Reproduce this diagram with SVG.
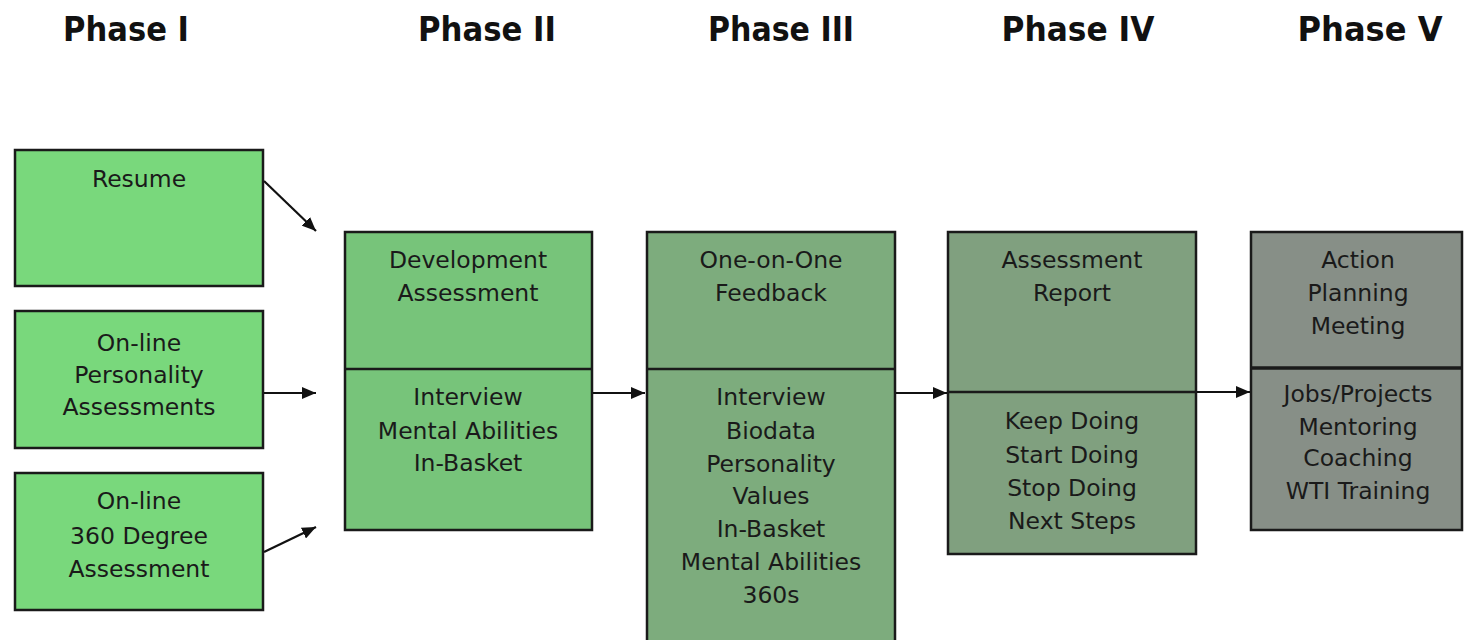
<svg xmlns="http://www.w3.org/2000/svg" width="1464" height="640" viewBox="0 0 1464 640">
<style>
.hdr{font-family:"DejaVu Sans","Liberation Sans",sans-serif;font-weight:bold;font-size:33px;fill:#111;text-anchor:middle}
.t{font-family:"DejaVu Sans","Liberation Sans",sans-serif;font-size:23.5px;fill:#1a1a1a;text-anchor:middle}
.box{stroke:#1a1a1a;stroke-width:2.5}
.div{stroke:#1a1a1a;stroke-width:2.5}
.p1{fill:#79D87C}.p2{fill:#77C47A}.p3{fill:#7DAC7D}.p4{fill:#80A07F}.p5{fill:#878F87}
.con{stroke:#111;stroke-width:2.2;fill:none;marker-end:url(#ah)}
</style>
<defs>
<marker id="ah" viewBox="0 0 14 12" refX="14" refY="6" markerWidth="14" markerHeight="12" markerUnits="userSpaceOnUse" orient="auto">
<path d="M0,0 L14,6 L0,12 Z" fill="#111"/>
</marker>
</defs>
<rect width="1464" height="640" fill="#fff"/>
<g id="headers">
<text class="hdr" x="126" y="41" textLength="126" lengthAdjust="spacingAndGlyphs">Phase I</text>
<text class="hdr" x="487" y="41" textLength="138" lengthAdjust="spacingAndGlyphs">Phase II</text>
<text class="hdr" x="781" y="41" textLength="146" lengthAdjust="spacingAndGlyphs">Phase III</text>
<text class="hdr" x="1078" y="41" textLength="153" lengthAdjust="spacingAndGlyphs">Phase IV</text>
<text class="hdr" x="1370" y="41" textLength="145" lengthAdjust="spacingAndGlyphs">Phase V</text>
</g>
<g id="resume">
<rect class="box p1" x="15" y="150" width="248" height="136"/>
<text class="t" x="139" y="187">Resume</text>
</g>
<g id="personality">
<rect class="box p1" x="15" y="311" width="248" height="137"/>
<text class="t" x="139" y="351">On-line</text>
<text class="t" x="139" y="383">Personality</text>
<text class="t" x="139" y="415">Assessments</text>
</g>
<g id="degree360">
<rect class="box p1" x="15" y="473" width="248" height="137"/>
<text class="t" x="139" y="509">On-line</text>
<text class="t" x="139" y="544">360 Degree</text>
<text class="t" x="139" y="577">Assessment</text>
</g>
<g id="phase2">
<rect class="box p2" x="345" y="232" width="247" height="298"/>
<line class="div" x1="345" y1="369" x2="592" y2="369"/>
<text class="t" x="468" y="268">Development</text>
<text class="t" x="468" y="301">Assessment</text>
<text class="t" x="468" y="405">Interview</text>
<text class="t" x="468" y="439">Mental Abilities</text>
<text class="t" x="468" y="471">In-Basket</text>
</g>
<g id="phase3">
<rect class="box p3" x="647" y="232" width="248" height="420"/>
<line class="div" x1="647" y1="369" x2="895" y2="369"/>
<text class="t" x="771" y="268">One-on-One</text>
<text class="t" x="771" y="301">Feedback</text>
<text class="t" x="771" y="405">Interview</text>
<text class="t" x="771" y="439">Biodata</text>
<text class="t" x="771" y="472">Personality</text>
<text class="t" x="771" y="504">Values</text>
<text class="t" x="771" y="537">In-Basket</text>
<text class="t" x="771" y="570">Mental Abilities</text>
<text class="t" x="771" y="603">360s</text>
</g>
<g id="phase4">
<rect class="box p4" x="948" y="232" width="248" height="322"/>
<line class="div" x1="948" y1="392" x2="1196" y2="392"/>
<text class="t" x="1072" y="268">Assessment</text>
<text class="t" x="1072" y="301">Report</text>
<text class="t" x="1072" y="429">Keep Doing</text>
<text class="t" x="1072" y="463">Start Doing</text>
<text class="t" x="1072" y="496">Stop Doing</text>
<text class="t" x="1072" y="529">Next Steps</text>
</g>
<g id="phase5">
<rect class="box p5" x="1251" y="232" width="211" height="298"/>
<line class="div" x1="1251" y1="368" x2="1462" y2="368" style="stroke-width:3.5"/>
<text class="t" x="1358" y="268">Action</text>
<text class="t" x="1358" y="301">Planning</text>
<text class="t" x="1358" y="334">Meeting</text>
<text class="t" x="1358" y="402">Jobs/Projects</text>
<text class="t" x="1358" y="435">Mentoring</text>
<text class="t" x="1358" y="466">Coaching</text>
<text class="t" x="1358" y="499">WTI Training</text>
</g>
<g id="connectors">
<line class="con" x1="264" y1="181" x2="316" y2="231"/>
<line class="con" x1="264" y1="393" x2="316" y2="393"/>
<line class="con" x1="264" y1="552" x2="316" y2="527"/>
<line class="con" x1="593" y1="393" x2="645" y2="393"/>
<line class="con" x1="896" y1="393" x2="947" y2="393"/>
<line class="con" x1="1197" y1="392" x2="1250" y2="392"/>
</g>
</svg>
